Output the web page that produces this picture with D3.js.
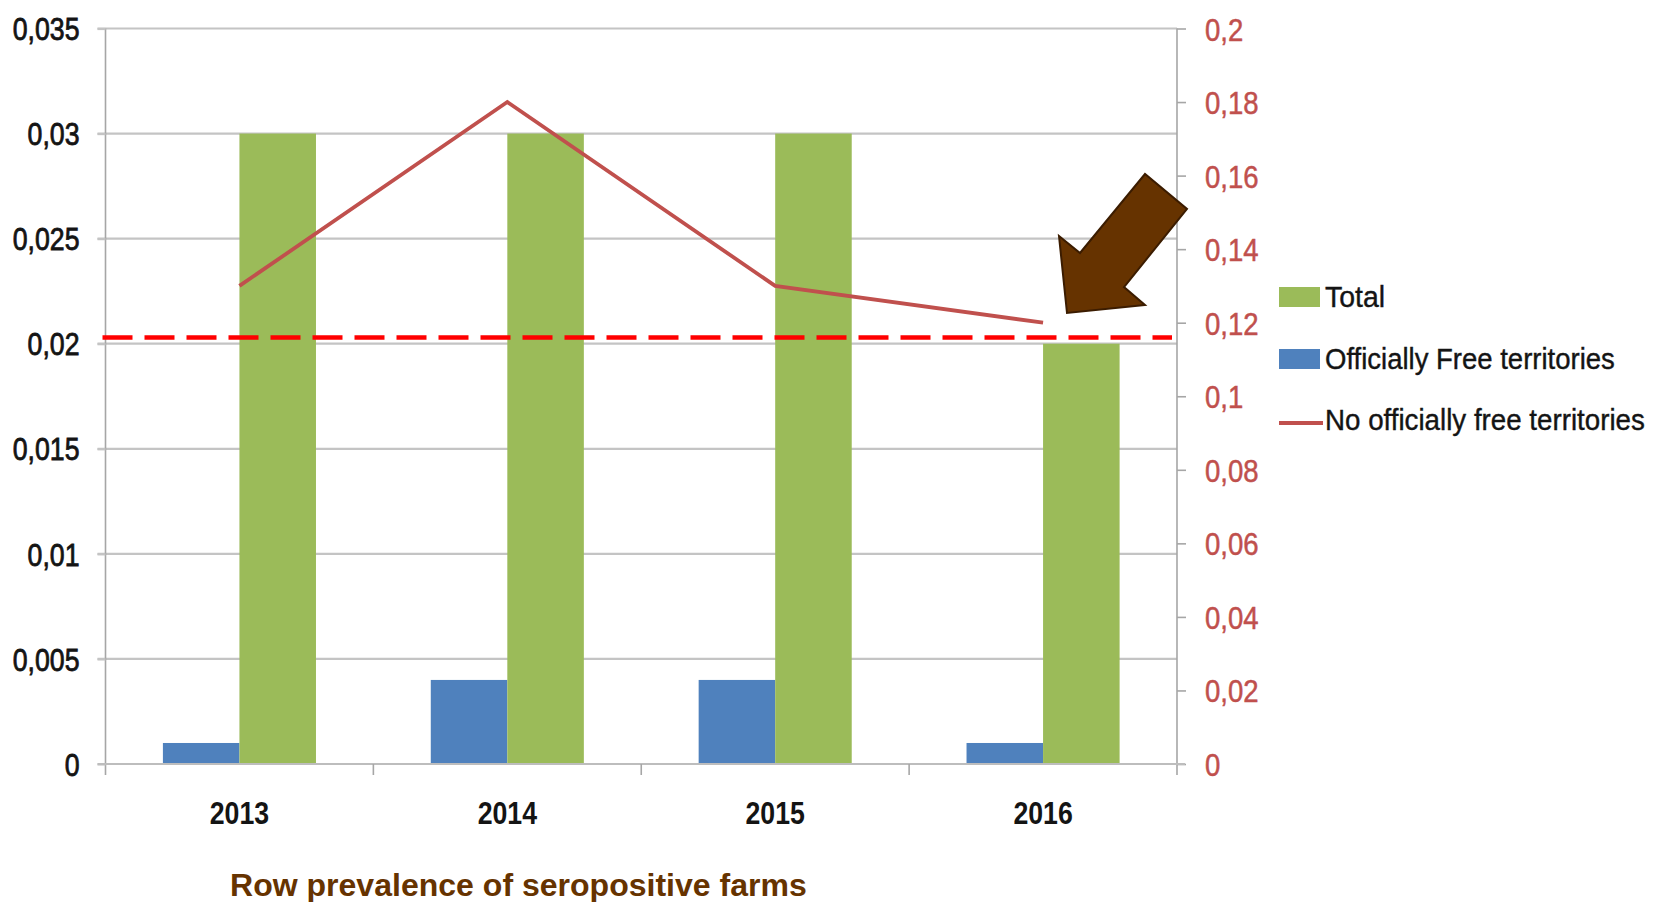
<!DOCTYPE html>
<html>
<head>
<meta charset="utf-8">
<script src="https://cdn.jsdelivr.net/npm/d3@7/dist/d3.min.js"></script>
<style>
  html, body { margin: 0; padding: 0; background: #ffffff; }
  svg { display: block; }
  text { font-family: "Liberation Sans Narrow", "Arial Narrow", "Liberation Sans", sans-serif; }
</style>
</head>
<body>
<svg id="chart" width="1655" height="902"></svg>
<script>
// ---- data ----
const years = ["2013", "2014", "2015", "2016"];
const seriesNames = ["Officially Free territories", "Total"];
const officiallyFree = [0.001, 0.004, 0.004, 0.001];
const total = [0.03, 0.03, 0.03, 0.02];
const noOfficiallyFree = [0.13, 0.18, 0.13, 0.12];
const leftTicks = [0, 0.005, 0.01, 0.015, 0.02, 0.025, 0.03, 0.035];
const rightTicks = [0, 0.02, 0.04, 0.06, 0.08, 0.1, 0.12, 0.14, 0.16, 0.18, 0.2];
const thresholdRight = 0.116;
const legendLabels = ["Total", "Officially Free territories", "No officially free territories"];
const titleText = "Row prevalence of seropositive farms";

// ---- layout ----
const svg = d3.select("#chart");
const L = 105.5, R = 1177, T = 28.5, B = 764;
const colors = { "Total": "#9bbb59", "Officially Free territories": "#4f81bd" };
const lineColor = "#c0504d";
const fmt = (p) => (d) => d === 0 ? "0" : d3.format(p)(d).replace(".", ",");
const condense = (sel, f) => sel.each(function () {
  const w = this.getComputedTextLength();
  d3.select(this).attr("textLength", w * f).attr("lengthAdjust", "spacingAndGlyphs");
});

const x0 = d3.scaleBand().domain(years).range([L, R]).paddingInner(0).paddingOuter(0);
const x1 = d3.scaleBand().domain(seriesNames).range([0, x0.bandwidth()]).paddingInner(0).paddingOuter(0.75);
const yL = d3.scaleLinear().domain([0, 0.035]).range([B, T]);
const yR = d3.scaleLinear().domain([0, 0.2]).range([B, T]);

// gridlines
svg.append("g").selectAll("line").data(leftTicks.filter(d => d > 0)).join("line")
  .attr("x1", L - 8).attr("x2", R)
  .attr("y1", d => yL(d)).attr("y2", d => yL(d))
  .attr("stroke", "#c4c4c4").attr("stroke-width", 2.2);

// bars
const rows = years.map((y, i) => ({ year: y, vals: [
  { key: "Officially Free territories", v: officiallyFree[i] },
  { key: "Total", v: total[i] } ] }));
svg.append("g").selectAll("g").data(rows).join("g")
  .attr("transform", d => `translate(${x0(d.year)},0)`)
  .selectAll("rect").data(d => d.vals).join("rect")
  .attr("x", d => x1(d.key)).attr("width", x1.bandwidth())
  .attr("y", d => yL(d.v)).attr("height", d => B - yL(d.v))
  .attr("fill", d => colors[d.key]);

// left axis
const axL = svg.append("g").attr("transform", `translate(${L},0)`)
  .call(d3.axisLeft(yL).tickValues(leftTicks).tickFormat(fmt(".3~f")).tickSize(8).tickPadding(18));
axL.select(".domain").attr("stroke", "#a6a6a6").attr("stroke-width", 1.6).attr("d", `M0,${T}V${B + 11}`);
axL.selectAll(".tick line").attr("stroke", "#c4c4c4").attr("stroke-width", 2.2);
axL.selectAll(".tick text").attr("font-size", 31).attr("fill", "#141414")
  .attr("stroke", "#141414").attr("stroke-width", 0.8).attr("dy", "0.36em").call(condense, 0.86);

// right axis
const axR = svg.append("g").attr("transform", `translate(${R},0)`)
  .call(d3.axisRight(yR).tickValues(rightTicks).tickFormat(fmt(".2~f")).tickSize(9).tickPadding(19));
axR.select(".domain").attr("stroke", "#a6a6a6").attr("stroke-width", 1.6).attr("d", `M0,${T}V${B + 11}`);
axR.selectAll(".tick line").attr("stroke", "#a6a6a6").attr("stroke-width", 1.6);
axR.selectAll(".tick text").attr("font-size", 32).attr("fill", "#c0504d")
  .attr("stroke", "#c0504d").attr("stroke-width", 0.5).attr("dy", "0.36em").call(condense, 0.86);

// bottom axis
const axB = svg.append("g").attr("transform", `translate(0,${B})`)
  .call(d3.axisBottom(x0).tickSize(0).tickPadding(0));
axB.select(".domain").attr("stroke", "#bdbdbd").attr("stroke-width", 2.2).attr("d", `M${L - 8},0H${R + 8}`);
axB.selectAll(".tick text").attr("font-size", 31).attr("font-weight", "bold").attr("fill", "#141414")
  .attr("y", 60).attr("dy", 0).call(condense, 0.86);
svg.append("g").selectAll("line").data(years.slice(1)).join("line")
  .attr("x1", d => x0(d)).attr("x2", d => x0(d)).attr("y1", B).attr("y2", B + 11)
  .attr("stroke", "#a6a6a6").attr("stroke-width", 1.6);

// red line (right axis)
const line = d3.line().x((d, i) => x0(years[i]) + x0.bandwidth() / 2).y(d => yR(d));
svg.append("path").datum(noOfficiallyFree).attr("d", line)
  .attr("fill", "none").attr("stroke", lineColor).attr("stroke-width", 3.8);

// dashed threshold line
svg.append("line").attr("x1", L - 3).attr("x2", R - 5)
  .attr("y1", yR(thresholdRight)).attr("y2", yR(thresholdRight))
  .attr("stroke", "#ff0000").attr("stroke-width", 4.5).attr("stroke-dasharray", "30 12");

// arrow annotation
svg.append("polygon")
  .attr("points", [[1067,313],[1059,236],[1080,253],[1145,174],[1187,209],[1124,287],[1145,305]].map(p => p.join(",")).join(" "))
  .attr("fill", "#663300").attr("stroke", "#3b1c00").attr("stroke-width", 2).attr("stroke-linejoin", "miter");

// legend
const lg = svg.append("g");
const ly = [297, 359, 420];
lg.append("rect").attr("x", 1279).attr("y", ly[0] - 10).attr("width", 41).attr("height", 20).attr("fill", colors["Total"]);
lg.append("rect").attr("x", 1279).attr("y", ly[1] - 10).attr("width", 41).attr("height", 20).attr("fill", colors["Officially Free territories"]);
lg.append("line").attr("x1", 1279).attr("x2", 1323).attr("y1", ly[2] + 3).attr("y2", ly[2] + 3)
  .attr("stroke", lineColor).attr("stroke-width", 4);
const legendWidths = [60, 290, 320];
lg.selectAll("text").data(legendLabels).join("text")
  .attr("x", 0).attr("y", 0)
  .attr("font-size", 30).attr("fill", "#141414")
  .attr("stroke", "#141414").attr("stroke-width", 0.4)
  .text(d => d)
  .each(function (d, i) {
    const w = this.getComputedTextLength();
    d3.select(this).attr("transform", `translate(1325,${ly[i] + 10}) scale(${legendWidths[i] / w},1)`);
  });

// title
svg.append("text").attr("x", 0).attr("y", 0)
  .attr("font-family", "'Open Sans', 'Liberation Sans', sans-serif")
  .attr("font-size", 31).attr("font-weight", "bold").attr("fill", "#663300")
  .text(titleText)
  .each(function () {
    const w = this.getComputedTextLength();
    d3.select(this).attr("transform", `translate(230,896) scale(${577 / w},1)`);
  });
</script>
</body>
</html>
